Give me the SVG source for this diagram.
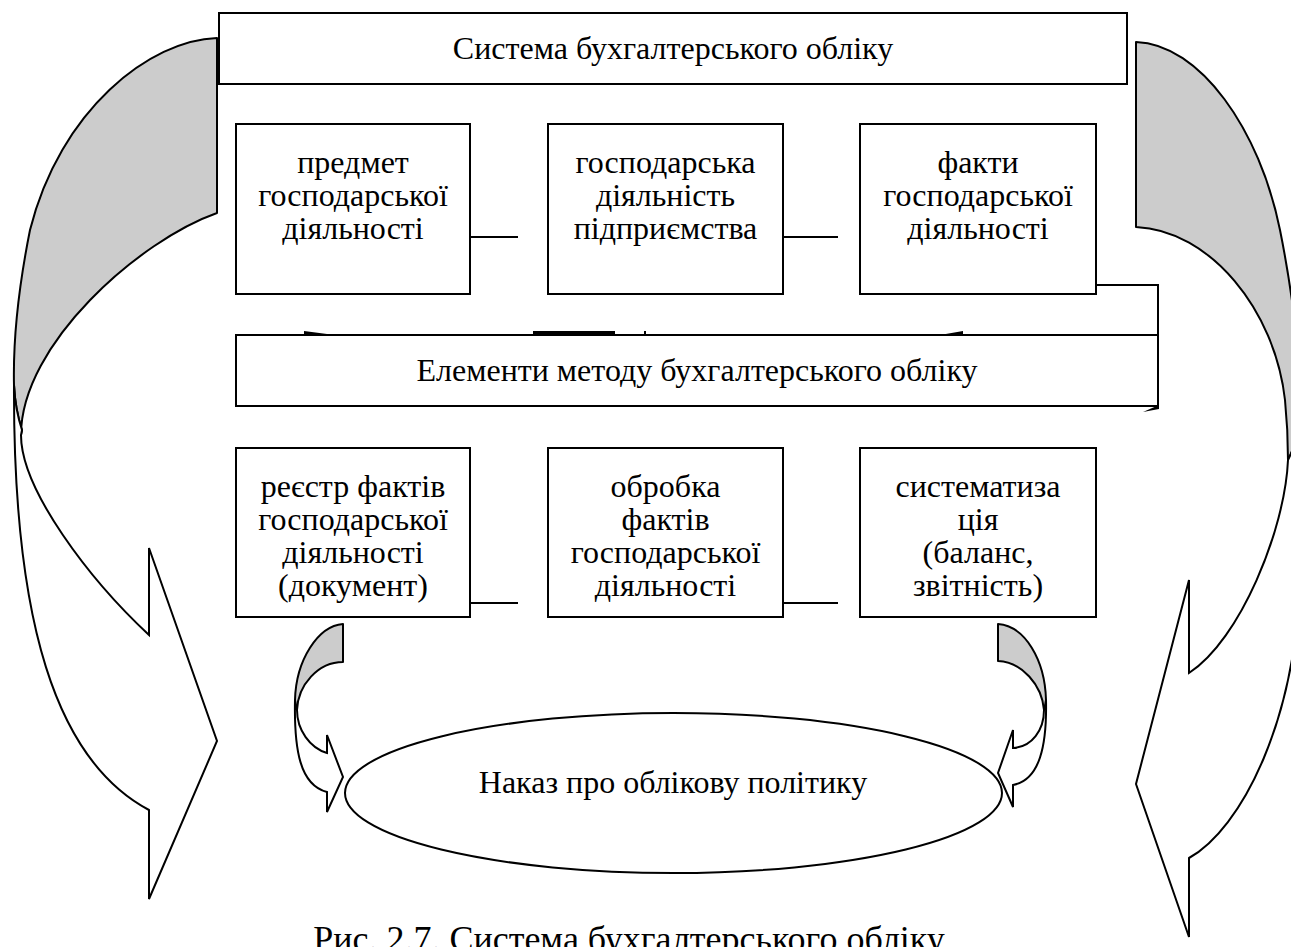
<svg xmlns="http://www.w3.org/2000/svg" width="1291" height="947" viewBox="0 0 1291 947">
<style>
.box{fill:#fff;stroke:#000;stroke-width:2}
.t{font-family:"Liberation Serif","Times New Roman",serif;font-size:32px;text-anchor:middle;fill:#000}
.cap{font-family:"Liberation Serif","Times New Roman",serif;font-size:36px;text-anchor:middle;fill:#000}
.ln{stroke:#000;stroke-width:2;fill:none}
.gray{fill:#cccccc;stroke:#000;stroke-width:2;stroke-linejoin:round}
.front{fill:#fff;stroke:#000;stroke-width:2;stroke-linejoin:miter}
.mk{fill:#000;stroke:none}
</style>
<rect width="1291" height="947" fill="#fff"/>

<g id="arrow-left-big">
<path class="gray" d="M217,38 C150,40 60,110 30,230 C18,290 13,340 14,385 C15,405 18,418 22,430 L21,435 C21,344 140,240 217,213 Z"/>
<path class="front" d="M14,385 C13,620 55,760 149,810 L149,899 L217,741 L149,548 L149,635 C90,580 21,490 21,435 L22,430 C18,418 15,405 14,385 Z"/>
</g>
<g id="arrow-right-big">
<path class="gray" d="M1136,42 C1200,44 1260,130 1280,230 C1292,290 1300,350 1300,410 C1300,430 1294,448 1288,460 C1288,440 1287,420 1285,400 C1275,310 1210,230 1136,227 Z"/>
<path class="front" d="M1300,410 L1300,560 C1300,720 1240,830 1189,858 L1189,937 L1136,784 L1189,580 L1189,673 C1240,640 1285,530 1288,460 C1294,448 1300,430 1300,410 Z"/>
</g>

<g id="title">
<rect class="box" x="219" y="13" width="908" height="71"/>
<text class="t" x="673" y="59">Система бухгалтерського обліку</text>
</g>

<g id="n-predmet">
<rect class="box" x="236" y="124" width="234" height="170"/>
<text class="t" x="353" y="173">предмет</text>
<text class="t" x="353" y="206">господарської</text>
<text class="t" x="353" y="239">діяльності</text>
</g>
<g id="n-hosp">
<rect class="box" x="548" y="124" width="235" height="170"/>
<text class="t" x="665.5" y="173">господарська</text>
<text class="t" x="665.5" y="206">діяльність</text>
<text class="t" x="665.5" y="239">підприємства</text>
</g>
<g id="n-fakty">
<rect class="box" x="860" y="124" width="236" height="170"/>
<text class="t" x="978" y="173">факти</text>
<text class="t" x="978" y="206">господарської</text>
<text class="t" x="978" y="239">діяльності</text>
</g>

<g id="n-elementy">
<rect class="box" x="236" y="335" width="922" height="71"/>
<text class="t" x="697" y="381">Елементи методу бухгалтерського обліку</text>
</g>

<g id="n-reestr">
<rect class="box" x="236" y="448" width="234" height="169"/>
<text class="t" x="353" y="497">реєстр фактів</text>
<text class="t" x="353" y="530">господарської</text>
<text class="t" x="353" y="563">діяльності</text>
<text class="t" x="353" y="596">(документ)</text>
</g>
<g id="n-obrobka">
<rect class="box" x="548" y="448" width="235" height="169"/>
<text class="t" x="665.5" y="497">обробка</text>
<text class="t" x="665.5" y="530">фактів</text>
<text class="t" x="665.5" y="563">господарської</text>
<text class="t" x="665.5" y="596">діяльності</text>
</g>
<g id="n-system">
<rect class="box" x="860" y="448" width="236" height="169"/>
<text class="t" x="978" y="497">систематиза</text>
<text class="t" x="978" y="530">ція</text>
<text class="t" x="978" y="563">(баланс,</text>
<text class="t" x="978" y="596">звітність)</text>
</g>

<g id="arrow-left-small">
<path class="gray" d="M343,624 C318,626 296,660 295,700 C295,704 296,707 297,710 C298,685 318,662 343,662 Z"/>
<path class="front" d="M295,700 C294,750 300,785 327,792 L327,812 L343,777 L327,735 L327,753 C310,748 297,730 297,710 C296,707 295,704 295,700 Z"/>
</g>
<g id="arrow-right-small">
<path class="gray" d="M998,624 C1025,626 1045,660 1046,700 C1046,704 1045,707 1044,710 C1042,685 1022,662 998,661 Z"/>
<path class="front" d="M1046,700 C1047,745 1040,780 1013,785 L1013,807 L998,773 L1013,730 L1013,748 C1032,747 1044,730 1044,710 C1045,707 1046,704 1046,700 Z"/>
</g>

<g id="n-nakaz">
<ellipse class="box" cx="673.5" cy="793" rx="328.5" ry="80"/>
<text class="t" x="673" y="793">Наказ про облікову політику</text>
</g>

<g id="connectors">
<line class="ln" x1="470" y1="237" x2="518" y2="237"/>
<line class="ln" x1="783" y1="237" x2="838" y2="237"/>
<line class="ln" x1="470" y1="603" x2="518" y2="603"/>
<line class="ln" x1="783" y1="603" x2="838" y2="603"/>
<polyline class="ln" points="1096,285 1158,285 1158,407"/>
<polygon class="mk" points="1159,405 1159,409 1143,412"/>
<polygon class="mk" points="304,331 327,334 304,336"/>
<rect class="mk" x="533" y="331" width="82" height="3"/>
<line class="ln" x1="645" y1="331" x2="645" y2="335" stroke-width="1.5"/>
<polygon class="mk" points="963,331 940,335 963,336"/>
</g>

<text class="cap" x="629" y="951">Рис. 2.7. Система бухгалтерського обліку</text>
</svg>
